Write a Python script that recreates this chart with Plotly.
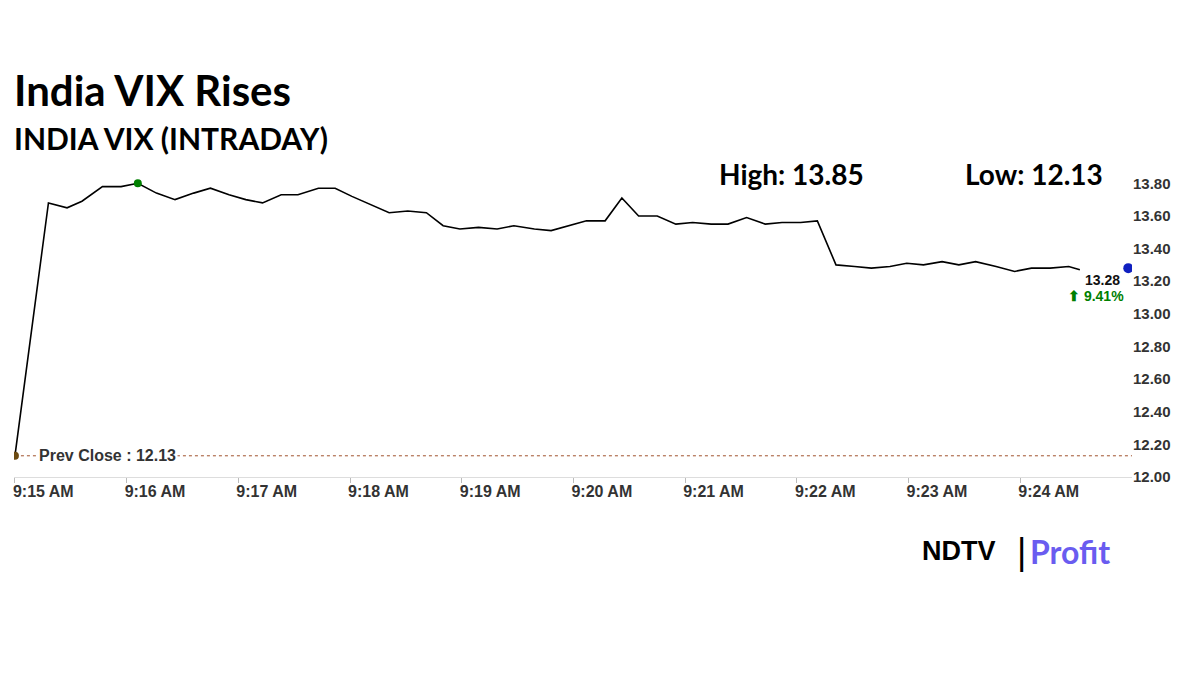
import plotly.graph_objects as go
import datetime as dt

secs = [0,18,28,36,47,57,66,76,86,96,105,115,124,133,143,152,163,172,181,191,201,211,221,230,239,249,259,268,279,288,298,307,317,326,335,345,355,364,374,383,393,403,412,422,431,441,451,460,470,479,488,498,507,516,527,537,546,556,566,572]
vals = [12.13,13.68,13.65,13.69,13.78,13.78,13.80,13.74,13.70,13.74,13.77,13.73,13.70,13.68,13.73,13.73,13.77,13.77,13.72,13.67,13.62,13.63,13.62,13.54,13.52,13.53,13.52,13.54,13.52,13.51,13.54,13.57,13.57,13.71,13.60,13.60,13.55,13.56,13.55,13.55,13.59,13.55,13.56,13.56,13.57,13.30,13.29,13.28,13.29,13.31,13.30,13.32,13.30,13.32,13.29,13.26,13.28,13.28,13.29,13.27]
prev_close = 12.13
last_val = 13.28
last_sec = 598
high_sec = 66
ytick_vals = [12.0,12.2,12.4,12.6,12.8,13.0,13.2,13.4,13.6,13.8]
xtick_mins = list(range(10))

base = dt.datetime(2024,1,1,9,15,0)
t = lambda s: base + dt.timedelta(seconds=s)
times = [t(s) for s in secs]

fig = go.Figure()
fig.add_trace(go.Scatter(x=[t(0), t(600)], y=[prev_close, prev_close], mode="lines",
                         line=dict(color="#a0522d", width=1, dash="dot"), hoverinfo="skip"))
fig.add_trace(go.Scatter(x=times, y=vals, mode="lines", line=dict(color="black", width=1.6)))
fig.add_trace(go.Scatter(x=[t(0)], y=[prev_close], mode="markers", marker=dict(color="#6b4a12", size=8)))
fig.add_trace(go.Scatter(x=[t(high_sec)], y=[max(vals)], mode="markers", marker=dict(color="green", size=8)))
fig.add_trace(go.Scatter(x=[t(last_sec)], y=[last_val], mode="markers", marker=dict(color="#1020c0", size=10)))

OFF = 8  # page offset
L, R, T, B = 6, 76, 159, 206
W, H = 1200 - L - R, 675 - T - B
fig.update_layout(
    width=1200, height=675, showlegend=False, plot_bgcolor="white", paper_bgcolor="white",
    margin=dict(l=L, r=R, t=T, b=B),
    xaxis=dict(range=[t(-0.5), t(600)], tickvals=[t(m*60) for m in xtick_mins], automargin=False,
               ticktext=[f"<b>9:{15+m} AM</b>" for m in xtick_mins], showgrid=False,
               ticklabelposition="outside right", ticklabelshift=-3,
               showline=True, linecolor="#dddddd", ticks="outside", ticklen=5, tickcolor="#bbbbbb",
               tickfont=dict(family="Liberation Sans", size=16, color="#333"), zeroline=False),
    yaxis=dict(range=[12.0, 13.9], side="right", tickvals=ytick_vals, automargin=False,
               ticktext=[f"<b>{v:.2f}</b>" for v in ytick_vals], showgrid=False, zeroline=False,
               tickfont=dict(family="Liberation Sans", size=15, color="#333")),
)

def px(x, y):
    x -= OFF; y -= OFF
    return (x - L) / W, (675 - B - y) / H

ann = [
    ("<b>India VIX Rises</b>", 12, 90, 42),
    ("<b>INDIA VIX (INTRADAY)</b>", 12, 138, 30),
    ("<b>High: 13.85</b>", 717, 174, 28),
    ("<b>Low: 12.13</b>", 963, 174, 28),
]
for text, x, y, s in ann:
    ax, ay = px(x, y)
    fig.add_annotation(text=text, x=ax, y=ay, xref="paper", yref="paper", xanchor="left", yanchor="middle",
                       showarrow=False, font=dict(family="Lato", size=s, color="black"))
fig.add_annotation(text="<b>Prev Close : 12.13</b>", x=t(12), y=prev_close, xanchor="left", yanchor="middle",
                   showarrow=False, bgcolor="white", font=dict(family="Liberation Sans", size=16, color="#333"))
fig.add_annotation(text="<b>13.28</b>", x=t(last_sec), y=last_val, xanchor="right", yanchor="top",
                   showarrow=False, xshift=-6, yshift=-2, font=dict(family="Liberation Sans", size=14, color="#111"))
fig.add_annotation(text="<b>⬆ 9.41%</b>", x=t(last_sec), y=last_val, xanchor="right", yanchor="top",
                   showarrow=False, xshift=-2, yshift=-18, font=dict(family="Liberation Sans", size=14, color="green"))
for text, x, s, fam, col in [("<b>NDTV</b>", 920, 27, "Liberation Sans", "black"),
                             ("|", 1015, 36, "Liberation Sans", "black"),
                             ("<b>Profit</b>", 1028, 32, "Lato", "#6a5cf0")]:
    ax, ay = px(x, 551)
    fig.add_annotation(text=text, x=ax, y=ay, xref="paper", yref="paper", xanchor="left", yanchor="middle",
                       showarrow=False, font=dict(family=fam, size=s, color=col))
fig.write_html("out.html")
